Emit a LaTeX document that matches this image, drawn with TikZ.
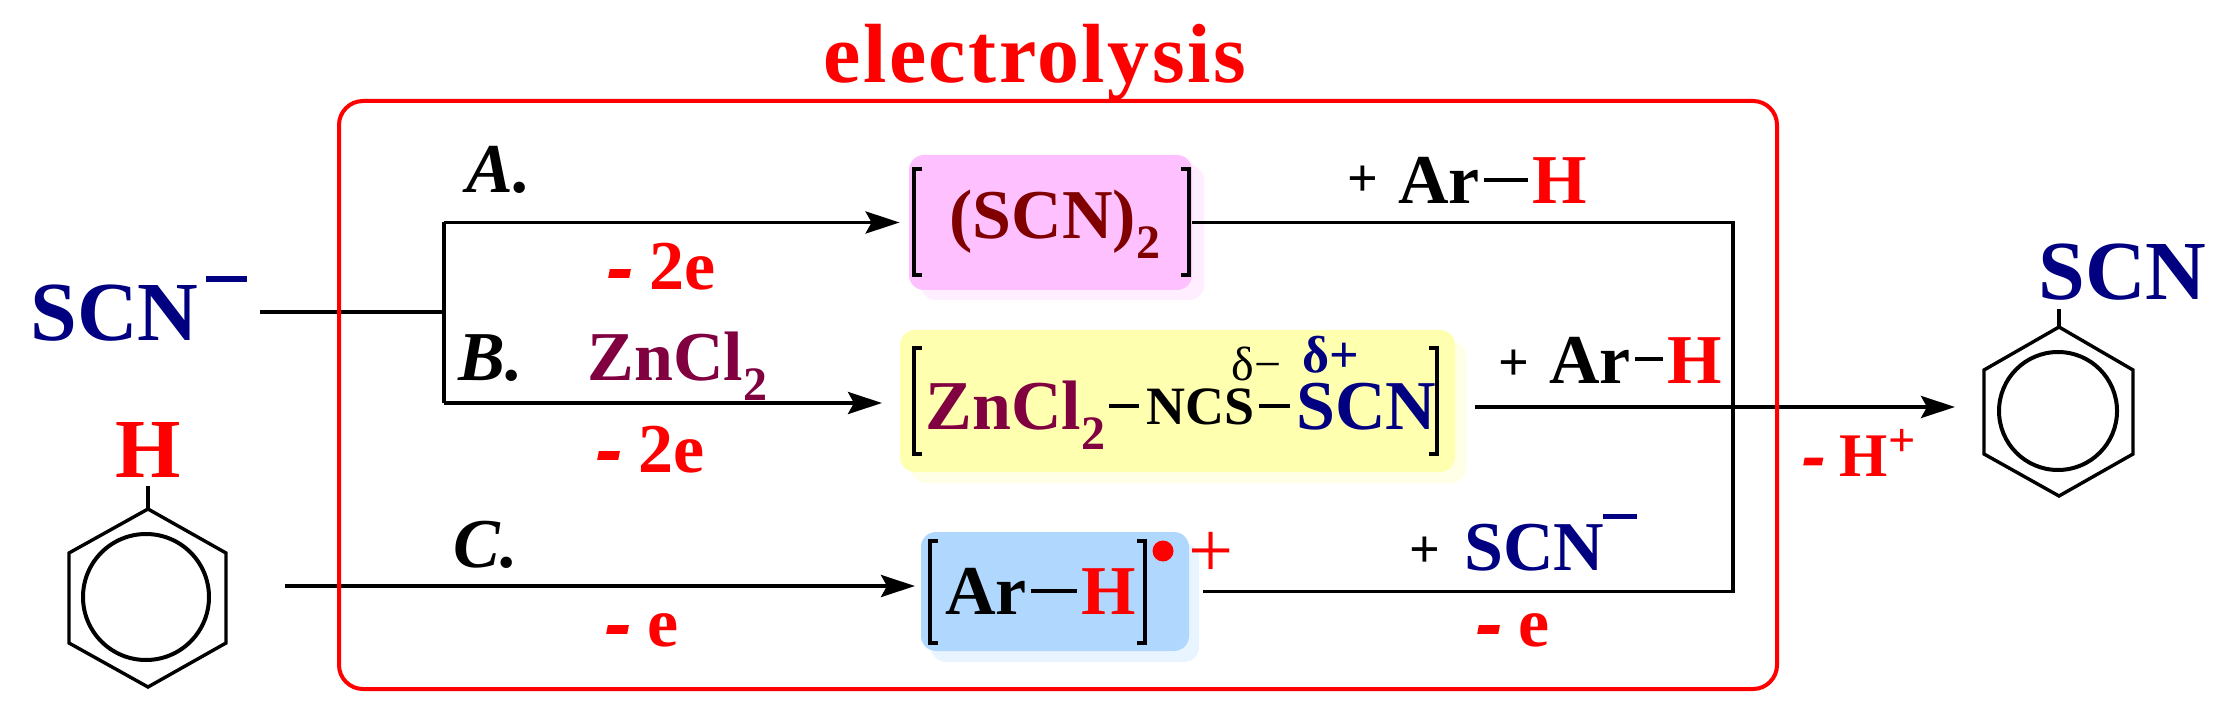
\documentclass[tikz,border=0pt]{standalone}
\usepackage{fontspec}
\setmainfont{Liberation Serif}
\usetikzlibrary{arrows.meta,shadows}
\definecolor{scnblue}{HTML}{000080}
\definecolor{scnred}{HTML}{800000}
\definecolor{znpurple}{HTML}{800040}
\definecolor{pinkfill}{HTML}{FFC0FF}
\definecolor{pinkshade}{HTML}{FFEEFF}
\definecolor{yellowfill}{HTML}{FFFFB0}
\definecolor{yellowshade}{HTML}{FFFFE8}
\definecolor{bluefill}{HTML}{B0D8FF}
\definecolor{blueshade}{HTML}{E8F4FF}
\newcommand{\fsz}[1]{\fontsize{#1}{#1}\selectfont}
\newcommand{\lowtwo}{\raisebox{-10pt}{\fsz{24}2}}
\newcommand{\bondbar}[2]{\kern2pt\rule[#2]{#1}{2pt}\kern2pt}
\newcommand{\lossdash}{{\itshape\addfontfeature{FakeBold=4}-}}
\tikzset{
    chem/.style={anchor=base west, inner sep=0pt, font=\bfseries\fsz{35}},
    bigchem/.style={chem, font=\bfseries\fsz{42}},
    route/.style={chem, font=\bfseries\itshape\fsz{35}},
    loss/.style={chem, red},
    plussign/.style={chem, font=\bfseries\fsz{27}},
    stagebox/.style={inner sep=0pt, rounded corners=7.5pt},
    link/.style={line width=1.9pt},
    rxn/.style={link, -{Stealth[length=17pt,width=11pt,inset=3pt]}},
    brk/.style={line width=1.9pt},
    ring/.style={line width=1.7pt, line join=miter}
}
\begin{document}
\begin{tikzpicture}[x=0.5pt,y=-0.5pt]
    \useasboundingbox (0,0) rectangle (2230,721);

    % stage boxes
    \node[stagebox, fill=pinkfill, minimum width=141.5pt, minimum height=67.5pt,
        general shadow={fill=pinkshade, shadow xshift=6pt, shadow yshift=-5pt}] (pinkbox) at (1050.5,222.5) {};
    \node[stagebox, fill=yellowfill, minimum width=277.5pt, minimum height=71pt,
        general shadow={fill=yellowshade, shadow xshift=5.5pt, shadow yshift=-5.5pt}] (yellowbox) at (1177.5,401) {};
    \node[stagebox, fill=bluefill, minimum width=134pt, minimum height=59.5pt,
        general shadow={fill=blueshade, shadow xshift=5pt, shadow yshift=-5.5pt}] (bluebox) at (1055,591.5) {};

    % brackets
    \foreach \l/\r/\t/\b in {914/1189/169/275, 914/1437/348/454, 930/1145/541/643} {
        \draw[brk] ({\l+8},\t) -- (\l,\t) -- (\l,\b) -- ({\l+8},\b);
        \draw[brk] ({\r-8},\t) -- (\r,\t) -- (\r,\b) -- ({\r-8},\b);
    }

    % junctions
    \coordinate (scnout) at (260,312);
    \coordinate (forkmid) at (444,312);
    \coordinate (forktop) at (444,222.5);
    \coordinate (forkbot) at (444,403);
    \coordinate (railtop) at (1733,222.5);
    \coordinate (railbot) at (1733,591.5);
    \coordinate (ringout) at (285,586);
    \coordinate (bluein) at (921,586);
    \coordinate (yellowin) at (900,403);
    \coordinate (yellowout) at (1475,407);
    \coordinate (productin) at (1955,407);

    % connectors
    \draw[link] (scnout) -- (forkmid);
    \draw[link] (forktop) -- (forkbot);
    \draw[rxn, shorten >=4.5pt] (forktop) -- (pinkbox.west);
    \draw[rxn, shorten >=9pt] (forkbot) -- (yellowin);
    \draw[rxn, shorten >=3pt] (ringout) -- (bluein);
    \draw[link, shorten >=7pt] (pinkbox.east) -- (railtop) -- (railbot) -- (bluebox.east);
    \draw[rxn] (yellowout) -- (productin);

    % electrolysis cell
    \draw[red, line width=2pt, rounded corners=12pt] (339,101) rectangle (1777,689);
    \node[chem, red, font=\bfseries\fsz{42}\addfontfeature{LetterSpace=3}] (celltitle) at (823,83) {electrolysis};

    % left side
    \node[bigchem, scnblue] (scnion) at (30,341) {SCN\kern4pt\rule[29.5pt]{20.5pt}{3pt}};
    \node[bigchem, red] (arenehyd) at (115,477) {H};
    \draw[ring] (148,486) -- (148,509);
    \draw[ring] (148,509) -- (226,553) -- (226,643) -- (148,687) -- (69,643) -- (69,553) -- cycle;
    \draw[line width=2pt] (146,597) circle (63);

    % routes
    \node[route] (routea) at (466,193) {A.};
    \node[route] (routeb) at (458,380) {B.};
    \node[route] (routec) at (453,567) {C.};
    \node[loss] (lossa) at (608,290) {\lossdash{} 2e};
    \node[loss] (lossb) at (597,472) {\lossdash{} 2e};
    \node[loss] (lossc) at (606,646) {\lossdash{} e};
    \node[chem, znpurple] (zncat) at (587,380) {ZnCl\lowtwo};

    % stage contents
    \node[chem, scnred] (thiocyanogen) at (949,239) {(SCN)\lowtwo};
    \node[chem, znpurple] (zncomplex) at (925,429) {ZnCl\lowtwo};
    \draw[link] (1109,406) -- (1139,406);
    \node[chem, font=\bfseries\fsz{27}] (ncsgroup) at (1146,424) {NCS};
    \draw[link] (1259,406) -- (1290,406);
    \node[chem, scnblue] (scngroup) at (1296,429) {SCN};
    \node[chem, font=\fsz{24}] (deltaminus) at (1231,380) {δ−};
    \node[chem, scnblue, font=\bfseries\fsz{26}] (deltaplus) at (1302,372) {δ+};
    \node[chem] (arenestage) at (945,614) {Ar\bondbar{23pt}{10.5pt}\textcolor{red}{H}};
    \fill[red] (1163,551) circle (10.5);
    \node[chem, red, font=\fsz{40}] (radicalplus) at (1188,577) {+};

    % reagents over the lines
    \node[plussign] (plusa) at (1347,197) {+};
    \node[chem] (arenea) at (1398,204) {Ar\bondbar{22pt}{11pt}\textcolor{red}{H}};
    \node[plussign] (plusb) at (1498,380) {+};
    \node[chem] (areneb) at (1549,383) {Ar\bondbar{14pt}{11pt}\textcolor{red}{H}};
    \node[plussign] (plusc) at (1409,567) {+};
    \node[chem, scnblue] (scnc) at (1464,570) {SCN\kern-0.5pt\rule[25.75pt]{17pt}{2.5pt}};
    \node[loss] (lossd) at (1477,646) {\lossdash{} e};
    \node[chem, red, font=\bfseries\fsz{31}] (lossproton) at (1803,476) {\lossdash{} H};
    \node[chem, red, font=\bfseries\fsz{24}] (protonplus) at (1888,456) {+};

    % product
    \node[bigchem, scnblue] (scnproduct) at (2038,300) {SCN};
    \draw[ring] (2059,309) -- (2059,327);
    \draw[ring] (2059,327) -- (2133,370) -- (2133,454) -- (2059,496) -- (1984,454) -- (1984,370) -- cycle;
    \draw[line width=2pt] (2058,411) circle (59);
\end{tikzpicture}
\end{document}
